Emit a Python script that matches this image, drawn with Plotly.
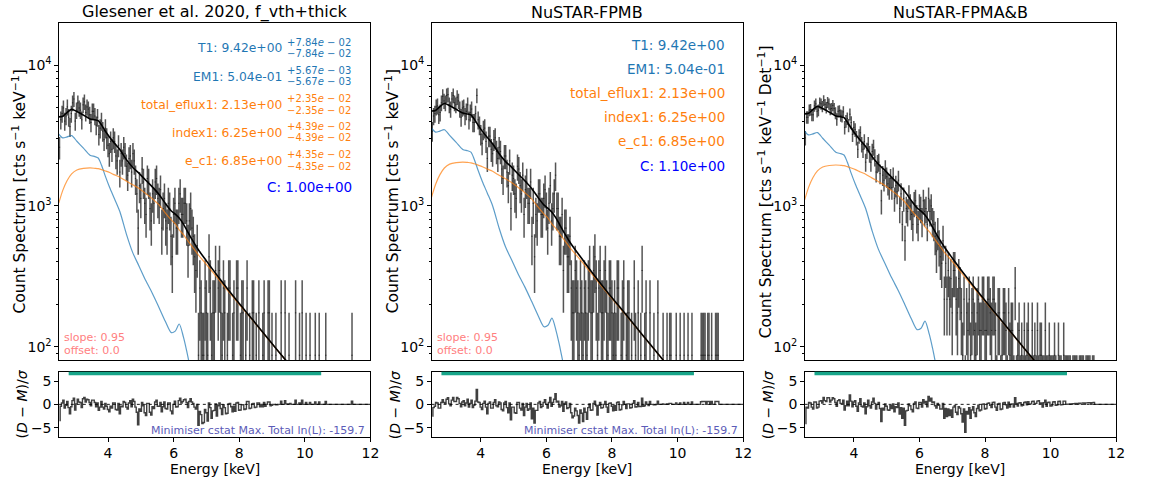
import numpy as np
import plotly.graph_objects as go

W, H = 1149, 481
FONT = "DejaVu Sans"

# ---------------------------------------------------------------- data
bin_width = 0.04          # keV
energy_start = 2.50       # keV

# observed counts per 0.04 keV bin (2.50 - 12.02 keV)
counts_fpma = [
    30, 47, 52, 57, 46, 50, 58, 49, 42, 52, 62, 66, 46, 55, 62, 57, 55, 47, 60, 63,
    53, 58, 56, 51, 45, 54, 54, 50, 43, 49, 37, 41, 46, 39, 34, 41, 35, 31, 27, 33,
    29, 35, 33, 26, 24, 31, 20, 27, 24, 30, 27, 22, 19, 25, 26, 20, 27, 24, 18, 14,
    8, 16, 13, 21, 17, 12, 10, 18, 17, 11, 9, 14, 12, 17, 18, 13, 12, 15, 8, 11,
    13, 9, 8, 12, 11, 7, 5, 10, 12, 8, 8, 12, 14, 10, 10, 12, 12, 9, 6, 9,
    11, 8, 7, 5, 4, 6, 1, 3, 2, 1, 1, 3, 2, 1, 5, 3, 1, 2, 2, 4,
    0, 3, 4, 2, 1, 3, 2, 0, 1, 3, 3, 0, 1, 2, 0, 3, 3, 0, 1, 2,
    2, 0, 1, 3, 0, 1, 0, 2, 2, 0, 1, 0, 2, 0, 0, 1, 2, 0, 0, 2,
    2, 0, 1, 0, 0, 1, 0, 0, 0, 2, 0, 0, 2, 0, 0, 1, 0, 0, 0, 0,
    2, 0, 0, 1, 0, 2, 0, 0, 1, 0, 0, 1, 0, 0, 0, 1, 0, 0, 1, 0,
    0, 0, 0, 1, 0, 0, 0, 0, 0, 0, 0, 0, 0, 0, 0, 0, 0, 0, 0, 0,
    0, 0, 0, 1] + [0] * 14
counts_fpmb = [
    39, 50, 52, 58, 59, 51, 53, 62, 69, 64, 62, 70, 71, 60, 56, 66, 70, 62, 60, 68,
    64, 56, 49, 57, 58, 50, 54, 60, 47, 53, 56, 45, 45, 52, 70, 47, 43, 37, 32, 40,
    41, 33, 25, 36, 36, 29, 27, 34, 35, 28, 25, 30, 28, 21, 18, 26, 26, 20, 16, 24,
    11, 19, 18, 14, 13, 22, 21, 16, 14, 19, 10, 15, 17, 12, 12, 17, 7, 12, 5, 10,
    9, 14, 14, 10, 10, 13, 15, 11, 8, 12, 16, 9, 11, 14, 19, 11, 11, 7, 7, 10,
    4, 8, 8, 5, 5, 7, 3, 2, 2, 4, 3, 2, 1, 3, 2, 1, 3, 2, 1, 3,
    4, 2, 2, 4, 5, 3, 1, 3, 4, 2, 2, 3, 4, 2, 1, 3, 3, 2, 1, 2,
    1, 3, 3, 0, 1, 2, 3, 0, 1, 2, 2, 0, 1, 0, 3, 1, 0, 2, 0, 1,
    4, 0, 1, 2, 0, 0, 2, 0, 0, 1, 0, 0, 2, 0, 0, 0, 1, 0, 0, 1,
    0, 1, 1, 0, 0, 0, 1, 0, 0, 1, 0, 0, 1, 0, 0, 1, 0, 0, 1, 0,
    0, 0, 0, 0, 0, 1, 1, 1, 1, 0, 1, 1, 0, 1, 0, 0, 1, 1, 1, 0,
    0, 0, 0, 0] + [0] * 14
counts_fpmab = [
    70, 98, 98, 110, 111, 102, 102, 118, 122, 108, 110, 124, 122, 117, 129, 121, 115, 125, 122, 112,
    113, 119, 113, 105, 95, 108, 109, 101, 100, 107, 83, 92, 96, 86, 103, 90, 74, 83, 80, 70,
    58, 72, 76, 63, 58, 66, 47, 57, 63, 54, 47, 56, 60, 51, 40, 46, 47, 39, 25, 38,
    35, 42, 37, 33, 31, 36, 31, 37, 26, 32, 29, 35, 22, 28, 17, 26, 13, 22, 21, 27,
    23, 20, 17, 24, 25, 19, 17, 23, 22, 18, 25, 21, 22, 17, 26, 21, 23, 18, 17, 14,
    11, 15, 12, 10, 9, 13, 5, 9, 5, 8, 5, 7, 4, 8, 8, 5, 4, 7, 6, 4,
    2, 5, 1, 4, 3, 5, 2, 4, 5, 3, 2, 4, 5, 3, 3, 5, 5, 3, 3, 5,
    5, 4, 3, 5, 5, 3, 1, 4, 4, 1, 2, 4, 4, 3, 1, 4, 2, 3, 3, 1,
    6, 1, 2, 3, 1, 2, 1, 3, 1, 2, 3, 1, 1, 3, 1, 2, 1, 3, 1, 2,
    2, 1, 1, 3, 1, 1, 2, 1, 1, 1, 2, 1, 0, 2, 1, 1, 0, 2, 1, 1,
    1, 1, 1, 0, 1, 1, 1, 1, 0, 1, 1, 1, 1, 0, 1, 1, 1, 1, 0, 1,
    1, 0, 0, 0] + [0] * 14

# normalised residuals (D - M) / sigma for the same bins
resid_fpma = [
    -3.5, -0.4, 0.3, 0.9, -0.8, -0.2, 0.6, -0.7, -2.0, -0.5, 0.8, 1.3, -1.2, 0.1, 1.1, 0.5, 0.4, -0.7, 1.2, 1.5,
    0.5, 1.1, 1.0, 0.4, -0.3, 0.9, 0.9, 0.4, -0.5, 0.3, -1.3, -0.6, 0.6, -0.6, -1.0, 0.2, -0.4, -1.1, -1.6, -0.4,
    -0.8, 0.3, 0.3, -1.1, -1.2, 0.2, -2.0, -0.4, -0.5, 0.6, 0.4, -0.6, -1.0, 0.3, 0.8, -0.5, 1.1, 0.6, -0.6, -1.7,
    -4.4, -1.0, -1.5, 0.4, -0.3, -1.8, -2.4, 0.2, 0.2, -1.7, -2.3, -0.5, -0.9, 0.5, 0.9, -0.4, -0.4, 0.4, -1.6, -0.5,
    0.5, -0.9, -1.0, 0.3, 0.3, -1.4, -2.0, 0.0, 0.7, -0.6, -0.5, 0.8, 1.3, 0.3, 0.6, 1.0, 1.1, 0.4, -0.7, 0.6,
    1.2, 0.5, 0.2, -0.6, -1.0, 0.0, -4.5, -1.5, -2.2, -4.1, -3.9, -1.1, -1.8, -3.6, 0.3, -0.7, -3.0, -1.4, -1.3, 0.1,
    -2.5, -0.3, 0.3, -0.9, -2.2, -0.1, -0.7, -2.0, -1.9, 0.1, 0.2, -0.5, -1.6, -0.4, -1.5, 0.3, 0.4, -1.3, -1.2, -0.1,
    -0.1, -1.1, -1.0, 0.6, 0.6, -0.9, -0.8, 0.1, 0.2, -0.7, -0.6, 0.3, 0.3, -0.55, 0.0, -0.5, 0.4, -0.4, 0.0, 0.5,
    0.5, -0.3, -0.2, 0.0, 0.0, -0.1, -0.1, 0.0, 0.0, 0.7, 0.0, 0.0, 0.8, 0.1, 0.0, 0.1, 0.2, 0.0, 0.0, 0.0,
    0.9, 0.0, 0.0, 0.3, 0.0, 0.9, 0.0, 0.0, 0.4, 0.0, 0.0, 0.4, 0.0, 0.0, 0.0, 0.5, 0.0, 0.0, 0.5, 0.0,
    0.0, 0.0, 0.0, 0.6, 0.0, 0.0, 0.0, 0.0, 0.0, 0.0, 0.0, 0.0, 0.0, 0.0, 0.0, 0.0, 0.0, 0.0, 0.0, 0.0,
    0.0, 0.0, 0.0, 0.7] + [0.0] * 14
resid_fpmb = [
    -2.5, -0.7, -0.4, 0.4, 0.3, -0.8, -0.8, 0.4, 1.0, 0.4, 0.2, 1.1, 1.4, 0.1, -0.3, 0.9, 1.5, 0.6, 0.6, 1.5,
    1.2, 0.2, -0.5, 0.5, 0.8, -0.3, 0.3, 1.1, -0.6, 0.2, 0.9, -0.7, -0.2, 0.7, 3.2, 0.5, 0.4, -0.6, -1.1, 0.2,
    0.7, -0.6, -2.0, 0.2, 0.5, -0.8, -0.8, 0.4, 1.0, -0.3, -0.5, 0.5, 0.3, -1.1, -1.4, 0.3, 0.6, -0.7, -1.8, 0.3,
    -3.3, -0.6, -0.6, -1.8, -1.9, 0.4, 0.4, -0.8, -1.2, 0.2, -2.4, -0.6, 0.2, -1.3, -1.0, 0.3, -3.1, -0.8, -4.0, -1.3,
    -1.3, 0.3, 0.6, -0.7, -0.4, 0.4, 1.0, 0.0, -0.8, 0.4, 1.5, -0.4, 0.4, 1.1, 2.3, 0.5, 0.7, -0.6, -0.3, 0.6,
    -1.5, 0.2, 0.5, -0.9, -0.7, 0.2, -1.8, -2.9, -2.5, -0.8, -1.4, -2.4, -4.0, -1.2, -1.9, -3.7, -0.8, -1.7, -3.2, -0.7,
    0.1, -1.3, -1.2, 0.2, 0.7, -0.3, -2.3, -0.2, 0.4, -0.8, -0.7, 0.0, 0.6, -0.6, -1.7, 0.2, 0.3, -0.4, -1.4, -0.3,
    -1.3, 0.4, 0.5, -1.2, -1.1, -0.1, 0.6, 0.0, -0.9, 0.1, 0.1, -0.8, -0.7, 0.2, 0.8, -0.6, -0.5, 0.4, -0.45, -0.45,
    1.3, -0.4, -0.3, 0.5, 0.0, -0.25, 0.6, 0.0, 0.0, -0.1, -0.1, 0.0, 0.7, 0.0, 0.0, 0.0, 0.1, 0.0, 0.0, 0.1,
    0.0, 0.2, 0.2, 0.0, 0.0, 0.0, 0.3, 0.0, 0.0, 0.3, 0.0, 0.0, 0.4, 0.0, 0.0, 0.4, 0.0, 0.0, 0.5, 0.0,
    0.0, 0.0, 0.0, 0.0, 0.0, 0.55, 0.6, 0.6, 0.6, 0.0, 0.6, 0.6, 0.0, 0.6, 0.0, 0.0, 0.6, 0.6, 0.6, 0.0,
    0.0, 0.0, 0.0, 0.0] + [0.0] * 14
resid_fpmab = [
    -4.1, -0.6, -0.8, 0.4, 0.3, -0.6, -1.0, 0.5, 0.5, -0.8, -0.6, 0.7, 0.8, 0.3, 1.5, 0.8, 0.6, 1.4, 1.4, 0.5,
    0.9, 1.4, 1.2, 0.4, -0.4, 0.8, 1.0, 0.2, 0.2, 0.9, -1.2, -0.3, 0.7, -0.3, 2.0, 0.7, -0.5, 0.5, 0.8, -0.4,
    -1.5, 0.3, 1.2, -0.4, -0.6, 0.3, -2.0, -0.5, 0.9, -0.3, -0.8, 0.5, 1.3, 0.2, -1.0, 0.0, 0.4, -0.9, -3.7, -0.8,
    -1.2, 0.1, -0.4, -1.2, -1.3, -0.3, -0.9, 0.1, -1.6, -0.5, -0.7, 0.3, -2.1, -0.7, -3.0, -0.8, -4.5, -1.4, -1.3, 0.1,
    -0.3, -1.1, -1.6, 0.2, 0.5, -0.8, -0.9, 0.4, 0.4, -0.6, 1.0, 0.3, 0.6, -0.5, 1.7, 0.7, 1.3, 0.4, 0.5, -0.3,
    -0.8, 0.2, -0.2, -1.0, -1.0, 0.2, -3.0, -0.9, -2.6, -1.0, -2.4, -1.2, -2.8, -0.6, -0.3, -1.7, -2.2, -0.5, -0.8, -2.0,
    -3.8, -1.0, -6.0, -1.5, -2.1, -0.7, -3.0, -1.2, -0.5, -1.8, -2.6, -0.9, -0.2, -1.4, -1.2, 0.0, 0.1, -1.0, -0.9, 0.2,
    0.3, -0.2, -0.7, 0.4, 0.45, -0.6, -1.3, 0.1, 0.2, -1.1, -1.0, 0.3, 0.4, -0.1, -0.8, 0.45, -0.6, 0.05, 0.1, -0.6,
    1.4, 0.2, -0.35, 0.3, 0.35, -0.3, -0.2, 0.4, 0.5, -0.1, 0.55, 0.0, 0.1, 0.6, 0.7, 0.1, 0.2, 0.7, 0.8, 0.25,
    0.3, -0.6, 0.35, 0.9, -0.4, 0.4, 0.45, -0.35, -0.3, 0.5, 0.55, -0.2, -0.15, 0.6, 0.65, -0.1, -0.05, 0.7, 0.7, 0.0,
    0.05, 0.05, 0.1, 0.0, 0.14, 0.14, 0.2, 0.2, 0.0, 0.22, 0.26, 0.26, 0.29, 0.0, 0.32, 0.32, 0.35, 0.35, 0.0, 0.38,
    0.4, 0.0, 0.0, 0.0] + [0.0] * 14

# count rate (cts s^-1 keV^-1) corresponding to a single count in a bin
rate_per_count = [87.0, 87.0, 43.5]

# best-fit model components (cts s^-1 keV^-1), unit normalisation
model_energy = [2.50, 2.62, 2.75, 2.89, 3.05, 3.25, 3.45, 3.60, 3.70, 3.80,
                3.92, 4.05, 4.20, 4.36, 4.56, 4.75, 4.95, 5.15, 5.35, 5.55,
                5.75, 5.93, 6.05, 6.17, 6.30, 6.40, 6.55, 6.75, 7.00, 7.40,
                7.89, 8.40, 8.90, 9.41, 10.0, 11.0, 12.0]
thermal_rate = [3240, 3040, 3090, 3160, 2880, 2570, 2290, 2240, 2190, 1950,
                1620, 1350, 1120, 912, 631, 468, 372, 295, 240, 191,
                151, 126, 129, 145, 117, 93, 63, 40, 22, 10,
                4, 1.5, 0.6, 0.2, 0.07, 0.01, 0.002]
thick_rate = [1050, 1290, 1510, 1690, 1800, 1845, 1860, 1850, 1840, 1810,
              1770, 1725, 1660, 1600, 1500, 1415, 1330, 1225, 1125, 1020,
              890, 795, 745, 675, 625, 580, 520, 450, 385, 295,
              214, 155, 112, 80.5, 55, 29.5, 15.8]

# fitted parameters
param_names = ["T1", "EM1", "total_eflux1", "index1", "e_c1"]
param_values = [9.42, 0.504, 2.13, 6.25, 6.85]
param_errors = [0.0784, 0.00567, 0.0235, 0.0439, 0.0435]
const_values = [1.00, 1.10]
fit_range = [2.8, 10.5]
max_log_likelihood = -159.7
gain_slope, gain_offset = 0.95, 0.0

panel_titles = ["Glesener et al. 2020, f_vth+thick", "NuSTAR-FPMB", "NuSTAR-FPMA&B"]

# ---------------------------------------------------------------- styling
C_BLUE = "#1f77b4"
C_ORANGE = "#ff7f0e"
param_colors = [C_BLUE, C_BLUE, C_ORANGE, C_ORANGE, C_ORANGE]
DATA_COL = "rgba(20,20,20,0.72)"

panel_left = [59.3, 435.0, 811.0]     # px
panel_w = 314.0
main_top, main_bot = 22.7, 360.0
res_top, res_bot = 371.7, 437.0


def px(xp):
    return xp / W


def py(yp):
    return 1 - yp / H


m_e = np.array(model_energy)
th = np.array(thermal_rate)
tk = np.array(thick_rate)

panel_counts = [counts_fpma, counts_fpmb, counts_fpmab]
panel_resid = [resid_fpma, resid_fpmb, resid_fpmab]
panel_const = [const_values[0], const_values[1], float(np.mean(const_values))]

fig = go.Figure()
layout = dict(
    width=W, height=H, margin=dict(l=0, r=0, t=0, b=0),
    paper_bgcolor="white", plot_bgcolor="white", showlegend=False,
    font=dict(family=FONT, size=13, color="black"),
)

axis_base = dict(showline=True, linecolor="black", linewidth=1, mirror=True,
                 showgrid=False, zeroline=False, ticks="outside", ticklen=3.5,
                 tickwidth=1, tickcolor="black", tickfont=dict(size=14))

minor_vals = [90] + [k * 100 for k in range(2, 10)] + [k * 1000 for k in range(2, 10)]

annotations = []
shapes = []

for p in range(3):
    xm, ym = f"x{2 * p + 1}", f"y{2 * p + 1}"
    xr, yr = f"x{2 * p + 2}", f"y{2 * p + 2}"
    kx_m = "xaxis" if p == 0 else f"xaxis{2 * p + 1}"
    ky_m = "yaxis" if p == 0 else f"yaxis{2 * p + 1}"
    kx_r, ky_r = f"xaxis{2 * p + 2}", f"yaxis{2 * p + 2}"
    x0 = panel_left[p]
    xd = [px(x0), px(x0 + panel_w)]

    layout[kx_m] = dict(axis_base, domain=xd, anchor=ym, range=[2.5, 12],
                        showticklabels=False, ticks="")
    layout[ky_m] = dict(axis_base, domain=[py(main_bot), py(main_top)], anchor=xm,
                        type="log", range=[np.log10(80.5), np.log10(2.0e4)],
                        tickmode="array", tickvals=[100, 1000, 10000],
                        ticktext=["10<sup>2</sup>", "10<sup>3</sup>", "10<sup>4</sup>"],
                        minor=dict(tickmode="array", tickvals=minor_vals, ticks="outside",
                                   ticklen=2, tickwidth=0.8, tickcolor="black"))
    layout[kx_r] = dict(axis_base, domain=xd, anchor=yr, range=[2.5, 12],
                        tickmode="array", tickvals=[4, 6, 8, 10, 12])
    layout[ky_r] = dict(axis_base, domain=[py(res_bot), py(res_top)], anchor=xr,
                        range=[-7, 7], tickmode="array", tickvals=[-5, 0, 5],
                        ticktext=["\u22125", "0", "5"])

    # ---- data with Poisson errors
    cnt = np.array(panel_counts[p], dtype=float)
    energy = energy_start + bin_width * (np.arange(len(cnt)) + 0.5)
    s = rate_per_count[p]
    good = cnt > 0
    rate = cnt * s
    err = np.sqrt(cnt) * s
    err_lo = np.where(rate - err > 0, err, rate * 0.999)
    fig.add_trace(go.Scatter(
        x=energy[good], y=rate[good], xaxis=xm, yaxis=ym, mode="markers",
        marker=dict(size=2, color="rgba(0,0,0,0)"),
        error_y=dict(type="data", array=err[good], arrayminus=err_lo[good],
                     thickness=1.5, width=0, color=DATA_COL),
        error_x=dict(type="constant", value=bin_width / 2, thickness=1.0,
                     width=0, color=DATA_COL),
        hoverinfo="skip"))

    # ---- model components and total
    c = panel_const[p]
    fig.add_trace(go.Scatter(x=m_e, y=c * th, xaxis=xm, yaxis=ym, mode="lines",
                             line=dict(color="rgba(31,119,180,0.72)", width=1.2,
                                       shape="spline", smoothing=0.8)))
    fig.add_trace(go.Scatter(x=m_e, y=c * tk, xaxis=xm, yaxis=ym, mode="lines",
                             line=dict(color="rgba(255,127,14,0.72)", width=1.2,
                                       shape="spline", smoothing=0.8)))
    fig.add_trace(go.Scatter(x=m_e, y=c * (th + tk), xaxis=xm, yaxis=ym, mode="lines",
                             line=dict(color="black", width=1.6,
                                       shape="spline", smoothing=0.8)))

    # ---- residuals
    res = np.array(panel_resid[p])
    e_res = energy_start + bin_width * (np.arange(len(res)) + 0.5)
    fig.add_trace(go.Scatter(x=e_res, y=res, xaxis=xr, yaxis=yr, mode="lines",
                             line=dict(color="rgba(0,0,0,0.75)", width=1.4, shape="hvh")))
    shapes.append(dict(type="line", xref=f"{xr} domain", yref=yr, x0=0, x1=1, y0=0, y1=0,
                       line=dict(color="black", width=0.9, dash="dot")))
    shapes.append(dict(type="line", xref=xr, yref=f"{yr} domain",
                       x0=fit_range[0], x1=fit_range[1], y0=0.972, y1=0.972,
                       line=dict(color="#17a589", width=3.6)))

    # ---- titles and axis labels
    annotations.append(dict(text=panel_titles[p], x=px(x0 + panel_w / 2), y=py(12),
                            xref="paper", yref="paper", showarrow=False,
                            xanchor="center", yanchor="middle", font=dict(size=16)))
    annotations.append(dict(text="Energy [keV]", x=px(x0 + panel_w / 2), y=py(469),
                            xref="paper", yref="paper", showarrow=False,
                            xanchor="center", yanchor="middle", font=dict(size=14)))
    ylab = "Count Spectrum [cts s<sup>\u22121</sup> keV<sup>\u22121</sup>"
    ylab += " Det<sup>\u22121</sup>]" if p == 2 else "]"
    annotations.append(dict(text=ylab, x=px(x0 - 40), y=py((main_top + main_bot) / 2),
                            xref="paper", yref="paper", showarrow=False, textangle=-90,
                            xanchor="center", yanchor="middle", font=dict(size=15.5)))
    annotations.append(dict(text="(<i>D</i> \u2212 <i>M</i>)/<i>\u03c3</i>",
                            x=px(x0 - 37), y=py((res_top + res_bot) / 2),
                            xref="paper", yref="paper", showarrow=False, textangle=-90,
                            xanchor="center", yanchor="middle", font=dict(size=14)))

    if p < 2:
        annotations.append(dict(text=f"slope: {gain_slope}", x=px(x0 + 3.5), y=py(337.7),
                                xref="paper", yref="paper", showarrow=False,
                                xanchor="left", yanchor="middle",
                                font=dict(size=11, color="#ff8080")))
        annotations.append(dict(text=f"offset: {gain_offset}", x=px(x0 + 3.5), y=py(350.7),
                                xref="paper", yref="paper", showarrow=False,
                                xanchor="left", yanchor="middle",
                                font=dict(size=11, color="#ff8080")))
        annotations.append(dict(text=f"Minimiser cstat Max. Total ln(L): {max_log_likelihood}",
                                x=px(x0 + 310.8), y=py(430.5), xref="paper", yref="paper",
                                showarrow=False, xanchor="right", yanchor="middle",
                                font=dict(size=11, color="#5c5cb8")))


def sci_math(v, sign):
    mant, ex = f"{v:.2e}".split("e")
    ex_sign = "\u2212" if ex[0] == "-" else "+"
    return f"{sign}{mant}<i>e</i> {ex_sign} {ex[1:]}"


# parameter read-out: first panel with uncertainties
rows1 = [48.3, 76.7, 105.0, 132.7, 161.0]
x0 = panel_left[0]
for name, val, e, col, yy in zip(param_names, param_values, param_errors, param_colors, rows1):
    annotations.append(dict(text=f"{name}: {val:.2e}", x=px(x0 + 227.0), y=py(yy),
                            xref="paper", yref="paper", showarrow=False,
                            xanchor="right", yanchor="middle", font=dict(size=12.3, color=col)))
    annotations.append(dict(text=sci_math(e, "+"), x=px(x0 + 227.8), y=py(yy - 6.2),
                            xref="paper", yref="paper", showarrow=False,
                            xanchor="left", yanchor="middle", font=dict(size=10, color=col)))
    annotations.append(dict(text=sci_math(e, "\u2212"), x=px(x0 + 227.8), y=py(yy + 5.2),
                            xref="paper", yref="paper", showarrow=False,
                            xanchor="left", yanchor="middle", font=dict(size=10, color=col)))
annotations.append(dict(text=f"C: {const_values[0]:.2e}", x=px(x0 + 297.5), y=py(187.3),
                        xref="paper", yref="paper", showarrow=False,
                        xanchor="right", yanchor="middle", font=dict(size=13.5, color="#0000ff")))

# parameter read-out: second panel
rows2 = [45.0, 69.3, 93.3, 117.3, 141.3]
x0 = panel_left[1]
for name, val, col, yy in zip(param_names, param_values, param_colors, rows2):
    annotations.append(dict(text=f"{name}: {val:.2e}", x=px(x0 + 297.7), y=py(yy),
                            xref="paper", yref="paper", showarrow=False,
                            xanchor="right", yanchor="middle", font=dict(size=13.5, color=col)))
annotations.append(dict(text=f"C: {const_values[1]:.2e}", x=px(x0 + 297.7), y=py(165.7),
                        xref="paper", yref="paper", showarrow=False,
                        xanchor="right", yanchor="middle", font=dict(size=13.5, color="#0000ff")))

layout["annotations"] = annotations
layout["shapes"] = shapes
fig.update_layout(**layout)
fig.write_html("out.html")
